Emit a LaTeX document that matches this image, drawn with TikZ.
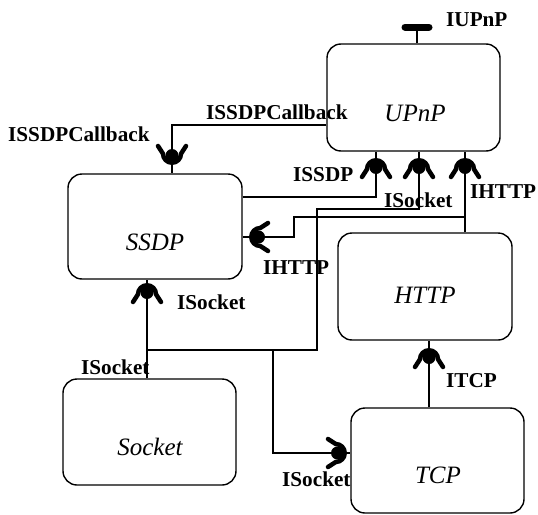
\documentclass[tikz,border=0pt]{standalone}
\usepackage{fontspec}
\setmainfont{Liberation Serif}
\begin{document}
\begin{tikzpicture}[x=1pt,y=-1pt,
  box/.style={draw, line width=1.4pt, rounded corners=14pt, inner sep=0pt},
  compname/.style={font=\fontsize{25}{28}\selectfont\itshape, inner sep=0pt},
  iface/.style={font=\fontsize{21.2}{24}\selectfont\bfseries, inner sep=0pt, anchor=base west},
  wire/.style={line width=1.3pt},
  recv/.pic={
    \draw[line width=4.5pt, line cap=round, line join=round]
      (19,14) -- (11.25,9) .. controls (6.3,9) and (2.25,5) .. (2.25,0)
      .. controls (2.25,-5) and (6.3,-9) .. (11.25,-9) -- (19,-14);
    \fill (9.5,0) circle[radius=6.5pt];
  }]
\useasboundingbox (0,0) rectangle (538,514);

% components
\node[box, minimum width=173pt, minimum height=107pt] (upnp)   at (413.5,97.5) {};
\node[box, minimum width=174pt, minimum height=105pt] (ssdp)   at (155,226.5) {};
\node[box, minimum width=174pt, minimum height=107pt] (http)   at (425,286.5) {};
\node[box, minimum width=173pt, minimum height=106pt] (socket) at (149.5,432) {};
\node[box, minimum width=173pt, minimum height=105pt] (tcp)    at (437.5,460.5) {};

\node[compname] (upnpname)   at (415,113) {UPnP};
\node[compname] (ssdpname)   at (155,242) {SSDP};
\node[compname] (httpname)   at (425,295) {HTTP};
\node[compname] (socketname) at (150,447) {Socket};
\node[compname] (tcpname)    at (438,475) {TCP};

% bend points of the wires
\coordinate (bar) at (417,27);
\coordinate (cbk) at (172,125);
\coordinate (sk)  at (376,197);
\coordinate (sa)  at (147,350);
\coordinate (sb)  at (317,350);
\coordinate (sc)  at (317,209);
\coordinate (sd)  at (419,209);
\coordinate (se)  at (273,350);
\coordinate (sf)  at (273,453);
\coordinate (ha)  at (465,217);
\coordinate (hb)  at (294,217);
\coordinate (hc)  at (294,237);
\coordinate (ta)  at (429,380);

% provided interface of UPnP
\draw[wire] (upnp.north -| bar) -- (bar);
\draw[line width=7pt, line cap=round] ([xshift=-12pt]bar) -- ([xshift=12pt]bar);

% wires
\draw[wire] (upnp.west |- cbk) -- (cbk) -- (ssdp.north -| cbk);
\draw[wire] (ssdp.east |- sk) -- (sk) -- (upnp.south -| sk);
\draw[wire] (socket.north -| sa) -- (ssdp.south -| sa);
\draw[wire] (sa) -- (sb) -- (sc) -- (sd) -- (upnp.south -| sd);
\draw[wire] (se) -- (sf) -- (tcp.west |- sf);
\draw[wire] (http.north -| ha) -- (upnp.south -| ha);
\draw[wire] (ha) -- (hb) -- (hc) -- (ssdp.east |- hc);
\draw[wire] (tcp.north -| ta) -- (http.south -| ta);

% required interfaces
\pic[rotate=90]  at (172,165) {recv};
\pic[rotate=-90] at (376,158) {recv};
\pic[rotate=-90] at (419,158) {recv};
\pic[rotate=-90] at (465,158) {recv};
\pic             at (249,237) {recv};
\pic[rotate=-90] at (147,283) {recv};
\pic[rotate=-90] at (429,348) {recv};
\pic[rotate=180] at (347,453) {recv};

% interface names
\node[iface] (l1)  at (446,26)    {IUPnP};
\node[iface] (l2)  at (206,119.5) {ISSDPCallback};
\node[iface] (l3)  at (8,141.5)   {ISSDPCallback};
\node[iface] (l4)  at (293,181.5) {ISSDP};
\node[iface] (l5)  at (384,207)   {ISocket};
\node[iface] (l6)  at (470,198)   {IHTTP};
\node[iface] (l7)  at (263,274)   {IHTTP};
\node[iface] (l8)  at (177,309)   {ISocket};
\node[iface] (l9)  at (81,374)    {ISocket};
\node[iface] (l10) at (446,387)   {ITCP};
\node[iface] (l11) at (282,486)   {ISocket};
\end{tikzpicture}
\end{document}
